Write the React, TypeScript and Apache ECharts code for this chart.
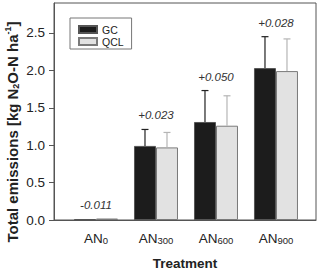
import React, { useEffect, useRef } from "react";
import * as echarts from "echarts";

const subscripts = ["0", "300", "600", "900"];
const xPositions = [0, 1, 2, 3];
const gcValues = [0.01, 0.99, 1.31, 2.03];
const qclValues = [0.02, 0.97, 1.26, 1.99];
const gcErrTop = [0.01, 1.21, 1.73, 2.45];
const qclErrTop = [0.02, 1.17, 1.66, 2.42];
const diffLabels = ["-0.011", "+0.023", "+0.050", "+0.028"];
const yTicks = [0, 0.5, 1.0, 1.5, 2.0, 2.5];

const FONT = "'Liberation Sans', Arial, Helvetica, sans-serif";

export default function App() {
  const ref = useRef<HTMLDivElement>(null);
  useEffect(() => {
    if (!ref.current) return;
    const chart = echarts.init(ref.current, null, { renderer: "svg" });
    const barOffset = 11;
    const capHalf = 3.5;

    const errSeries = (tops: number[], vals: number[], side: number, color: string, name: string) => ({
      type: "custom",
      name,
      silent: true,
      z: 5,
      data: xPositions.map((x, i) => [x, vals[i], tops[i]]),
      renderItem: (params: any, api: any) => {
        const x = api.value(0);
        const p0 = api.coord([x, api.value(1)]);
        const p1 = api.coord([x, api.value(2)]);
        const cx = p0[0] + side * barOffset;
        if (Math.abs(p0[1] - p1[1]) < 2) return { type: "group", children: [] };
        return {
          type: "group",
          children: [
            { type: "line", shape: { x1: cx, y1: p0[1], x2: cx, y2: p1[1] }, style: { stroke: color, lineWidth: 1.2 } },
            { type: "line", shape: { x1: cx - capHalf, y1: p1[1], x2: cx + capHalf, y2: p1[1] }, style: { stroke: color, lineWidth: 1.2 } },
          ],
        };
      },
    });

    chart.setOption({
      animation: false,
      textStyle: { fontFamily: FONT },
      grid: {
        left: 54,
        right: 4,
        top: 3,
        bottom: 46,
        show: true,
        borderColor: "#555",
        borderWidth: 1,
        backgroundColor: "transparent",
      },
      graphic: [
        {
          type: "text",
          x: 12,
          y: 132,
          rotation: Math.PI / 2,
          style: {
            text: "{b|Total emissions [kg N}{bs|2}{b|O-N ha}{bp|-1}{b|]}",
            align: "center",
            verticalAlign: "middle",
            rich: {
              b: { fontSize: 15, fontWeight: "bold", fill: "#222", fontFamily: FONT },
              bs: { fontSize: 9, fontWeight: "bold", fill: "#222", fontFamily: FONT, padding: [7, 0, 0, 0] },
              bp: { fontSize: 9, fontWeight: "bold", fill: "#222", fontFamily: FONT, padding: [0, 0, 8, 0] },
            },
          },
        },
      ],
      legend: {
        left: 70,
        top: 18,
        orient: "vertical",
        data: ["GC", "QCL"],
        itemWidth: 18,
        itemHeight: 7,
        itemGap: 1,
        padding: [6, 8, 2, 8],
        borderColor: "#777",
        borderWidth: 1,
        icon: "rect",
        textStyle: { fontSize: 10.5, color: "#222", lineHeight: 10, fontFamily: FONT },
      },
      xAxis: {
        type: "value",
        min: -0.7,
        max: 3.667,
        name: "Treatment",
        nameLocation: "middle",
        nameGap: 36,
        nameTextStyle: { fontSize: 13.5, fontWeight: "bold", color: "#222", fontFamily: FONT },
        axisLine: { show: true, onZero: false, lineStyle: { color: "#555" } },
        axisTick: { show: false },
        splitLine: { show: false },
        axisLabel: {
          customValues: xPositions,
          margin: 9,
          formatter: (v: number) => `{a|AN}{s|${subscripts[Math.round(v)]}}`,
          rich: {
            a: { fontSize: 13.5, color: "#222", fontFamily: FONT, lineHeight: 16, verticalAlign: "bottom" },
            s: { fontSize: 9.5, color: "#222", fontFamily: FONT, lineHeight: 16, verticalAlign: "bottom", padding: [6, 0, 0, 0] },
          },
        },
      },
      yAxis: {
        type: "value",
        min: 0,
        max: 2.9,
        axisLine: { show: true, onZero: false, lineStyle: { color: "#555" } },
        axisTick: { show: true, customValues: yTicks, length: 5, inside: false, lineStyle: { color: "#555" } },
        splitLine: { show: false },
        axisLabel: {
          customValues: yTicks,
          margin: 9,
          fontSize: 13.5,
          color: "#222",
          fontFamily: FONT,
          formatter: (v: number) => v.toFixed(1),
        },
      },
      series: [
        {
          type: "bar",
          name: "GC",
          data: xPositions.map((x, i) => [x, gcValues[i]]),
          barWidth: 22,
          barGap: "0%",
          itemStyle: { color: "#1c1c1c", borderColor: "#555", borderWidth: 1 },
        },
        {
          type: "bar",
          name: "QCL",
          data: xPositions.map((x, i) => [x, qclValues[i]]),
          barWidth: 22,
          barGap: "0%",
          itemStyle: { color: "#e2e2e2", borderColor: "#7a7a7a", borderWidth: 1 },
        },
        errSeries(gcErrTop, gcValues, -1, "#222", "gcErr"),
        errSeries(qclErrTop, qclValues, 1, "#b5b5b5", "qclErr"),
        {
          type: "custom",
          name: "diff",
          silent: true,
          z: 6,
          data: xPositions.map((x, i) => [x, Math.max(gcErrTop[i], qclErrTop[i])]),
          renderItem: (params: any, api: any) => {
            const p = api.coord([api.value(0), api.value(1)]);
            return {
              type: "text",
              x: p[0],
              y: p[1] - 14,
              style: {
                text: diffLabels[params.dataIndex],
                fontSize: 11.5,
                fontStyle: "italic",
                fill: "#333",
                fontFamily: FONT,
                align: "center",
                verticalAlign: "middle",
              },
            };
          },
        },
      ],
    });
    return () => chart.dispose();
  }, []);
  return <div ref={ref} style={{ width: 320, height: 275, position: "absolute", left: 0, top: 0 }} />;
}
